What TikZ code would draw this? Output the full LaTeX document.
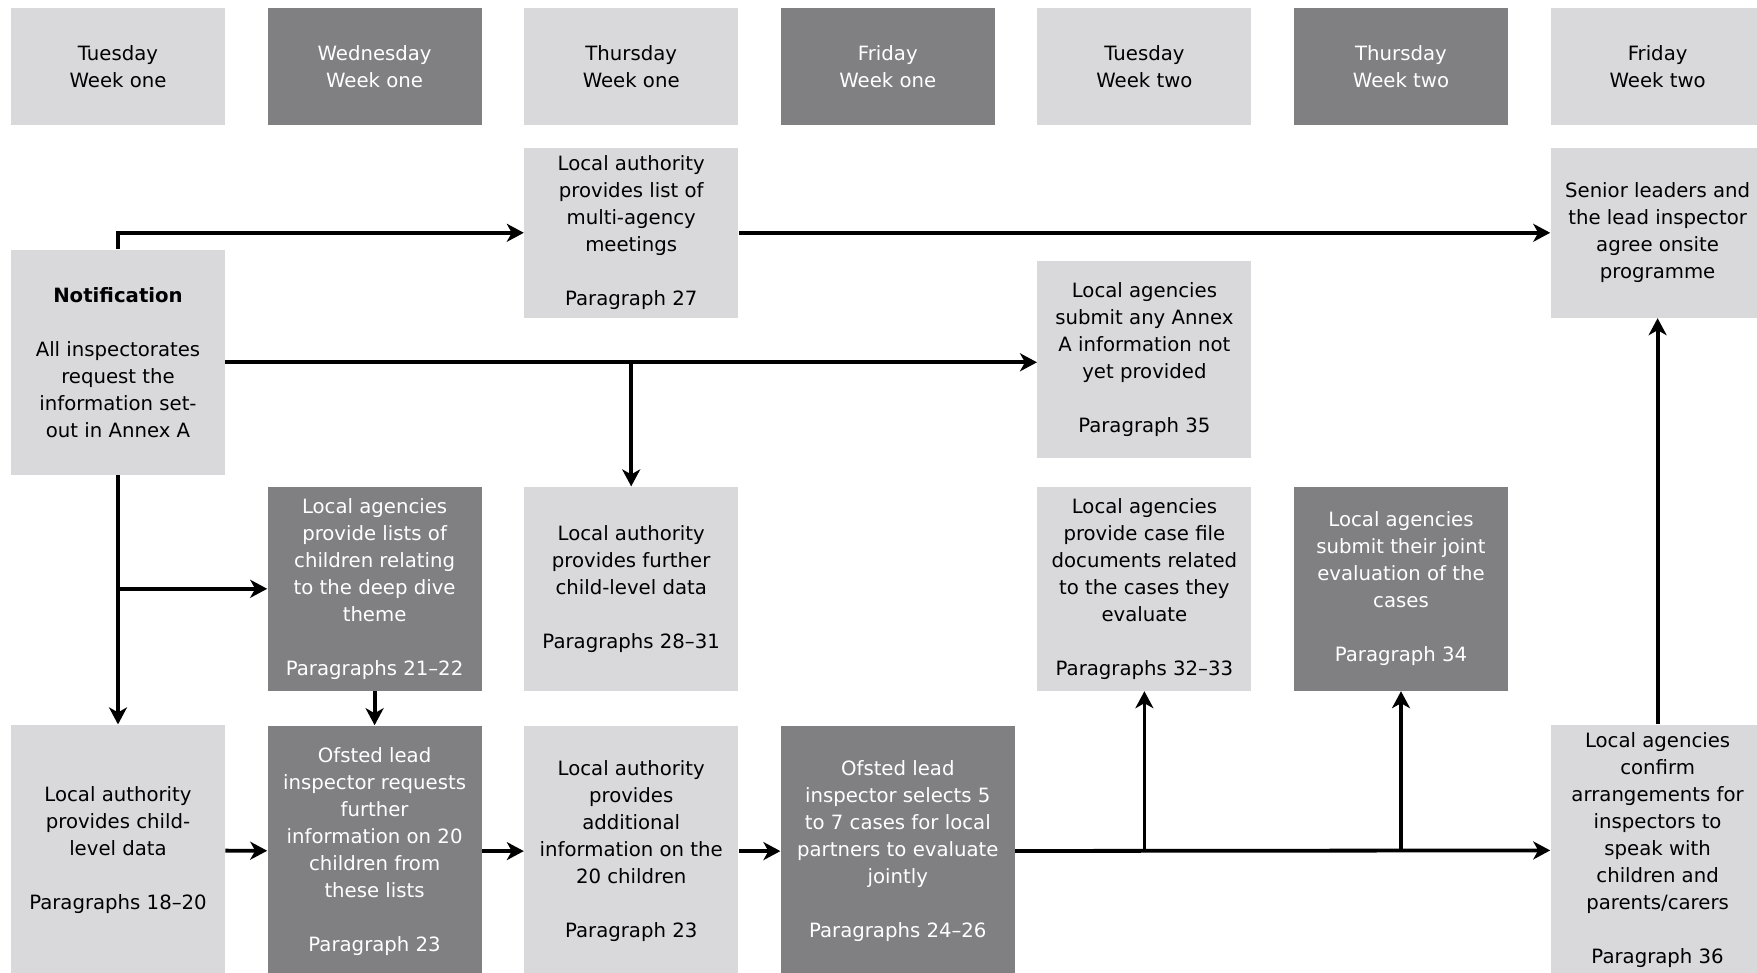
\documentclass[tikz,border=0pt]{standalone}
\usepackage{fontspec}
\setmainfont{DejaVu Sans}
\usepackage{xcolor}
\usepackage{tikz}
\usetikzlibrary{arrows.meta,positioning}
\definecolor{boxlight}{HTML}{D9D9DB}
\definecolor{boxdark}{HTML}{808082}

\begin{document}
\begin{tikzpicture}[
    x=1pt, y=1pt,
    node distance=11pt and 20.9pt,
    box/.style={rectangle, align=center, minimum width=107pt, inner sep=0pt, font=\fontsize{9.85}{13.5}\selectfont},
    light/.style={box, fill=boxlight, text=black},
    dark/.style={box, fill=boxdark, text=white},
    dayhead/.style={minimum height=58.5pt},
    rowa/.style={minimum height=85pt},
    rowc/.style={minimum height=102pt},
    rowd/.style={minimum height=125.5pt},
    arrow/.style={-{Stealth[length=8.5pt, width=9pt, inset=2.5pt]}, line width=1.9pt}
]
\useasboundingbox (0,0) rectangle (878.5,-486.5);
% days
\node[light, dayhead] (tue1) at (59,-33.25) {Tuesday\\Week one};
\node[dark, dayhead, right=of tue1] (wed1) {Wednesday\\Week one};
\node[light, dayhead, right=of wed1] (thu1) {Thursday\\Week one};
\node[dark, dayhead, right=of thu1] (fri1) {Friday\\Week one};
\node[light, dayhead, right=of fri1] (tue2) {Tuesday\\Week two};
\node[dark, dayhead, right=of tue2] (thu2) {Thursday\\Week two};
\node[light, dayhead, right=of thu2] (fri2) {Friday\\Week two};
% steps
\node[light, rowa, below=of thu1] (meetings) {Local authority\\provides list of\\multi-agency\\meetings\\[13.5pt]Paragraph 27};
\node[light, rowa, below=of fri2] (agree) {Senior leaders and\\the lead inspector\\agree onsite\\programme};
\node[light, minimum height=112.5pt, below=62pt of tue1] (notify) {\textbf{Notification}\\[13.5pt]All inspectorates\\request the\\information set-\\out in Annex A};
\node[light, minimum height=98.5pt, below=67.5pt of tue2] (annex) {Local agencies\\submit any Annex\\A information not\\yet provided\\[13.5pt]Paragraph 35};
\node[dark, rowc, below=180.5pt of wed1] (lists) {Local agencies\\provide lists of\\children relating\\to the deep dive\\theme\\[13.5pt]Paragraphs 21–22};
\node[light, rowc, below=180.5pt of thu1] (further) {Local authority\\provides further\\child-level data\\[13.5pt]Paragraphs 28–31};
\node[light, rowc, below=180.5pt of tue2] (casefile) {Local agencies\\provide case file\\documents related\\to the cases they\\evaluate\\[13.5pt]Paragraphs 32–33};
\node[dark, rowc, below=180.5pt of thu2] (joint) {Local agencies\\submit their joint\\evaluation of the\\cases\\[13.5pt]Paragraph 34};
\node[light, rowd, below=299.5pt of tue1] (childdata) {Local authority\\provides child-\\level data\\[13.5pt]Paragraphs 18–20};
\node[dark, rowd, below=17pt of lists] (request) {Ofsted lead\\inspector requests\\further\\information on 20\\children from\\these lists\\[13.5pt]Paragraph 23};
\node[light, rowd, below=17pt of further] (additional) {Local authority\\provides\\additional\\information on the\\20 children\\[13.5pt]Paragraph 23};
\node[dark, rowd, minimum width=117pt, right=20.9pt of additional] (selects) {Ofsted lead\\inspector selects 5\\to 7 cases for local\\partners to evaluate\\jointly\\[13.5pt]Paragraphs 24–26};
\node[light, rowd, below=299.5pt of fri2] (confirm) {Local agencies\\confirm\\arrangements for\\inspectors to\\speak with\\children and\\parents/carers\\[13.5pt]Paragraph 36};
% connectors
\draw[arrow] (notify.north) |- (meetings.west);
\draw[arrow] (meetings) -- (agree);
\draw[arrow] (notify.east) -- (notify.east -| annex.west);
\draw[arrow] (notify.east -| further.north) -- (further.north);
\draw[arrow] (notify.south) -- (childdata.north);
\draw[arrow] (notify.south |- lists.west) -- (lists.west);
\draw[arrow] (lists) -- (request);
\draw[arrow] (childdata) -- (request);
\draw[arrow] (request) -- (additional);
\draw[arrow] (additional) -- (selects);
\draw[arrow] (selects) -- (confirm);
\draw[arrow] (selects.east -| casefile.south) -- (casefile.south);
\draw[arrow] (selects.east -| joint.south) -- (joint.south);
\draw[arrow] (confirm) -- (agree);
\end{tikzpicture}
\end{document}
